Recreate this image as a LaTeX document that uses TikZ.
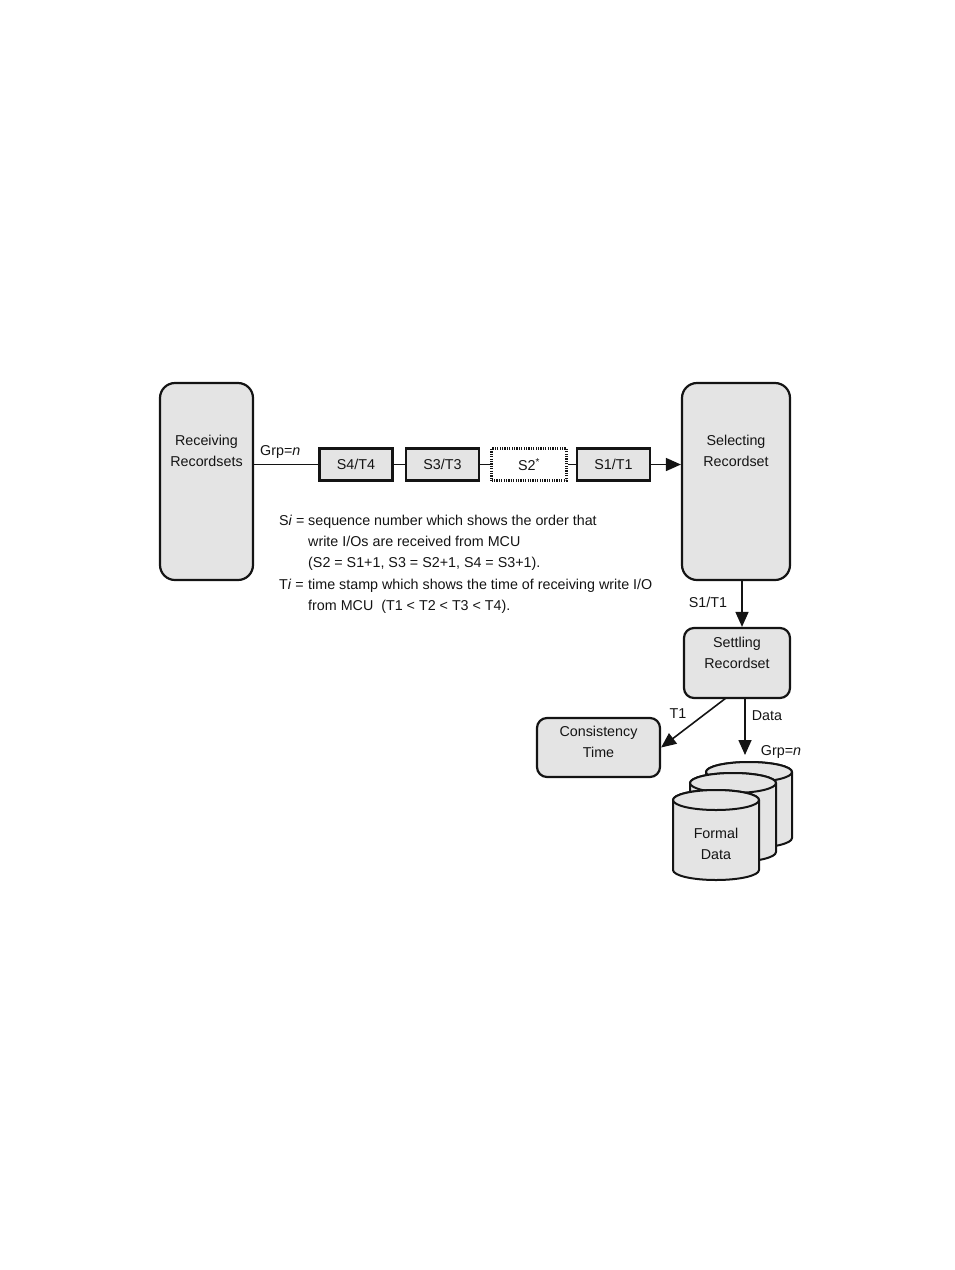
\documentclass[tikz,border=0pt]{standalone}
\usepackage{fontspec}
\setmainfont{Liberation Sans}
\usetikzlibrary{arrows.meta}
\definecolor{boxgray}{RGB}{228,228,228}
\definecolor{ink}{RGB}{20,20,20}
\begin{document}
\begin{tikzpicture}[x=1pt,y=-1pt,
  every node/.style={font=\fontsize{14.3}{17}\selectfont, text=ink},
  bigbox/.style={draw=ink, line width=2.2pt, fill=boxgray, rounded corners=15pt, inner sep=0pt},
  midbox/.style={draw=ink, line width=2.2pt, fill=boxgray, rounded corners=10pt, inner sep=0pt},
  seqbox/.style={draw=ink, line width=2.6pt, fill=boxgray, minimum width=73pt, minimum height=32pt, inner sep=0pt},
  gapbox/.style={draw=ink, line width=2.4pt, dash pattern=on 1.2pt off 1.2pt, fill=white, minimum width=75pt, minimum height=32pt, inner sep=0pt},
  lbl/.style={inner sep=0pt, align=center},
  legend/.style={inner sep=0pt, anchor=base west},
  conn/.style={draw=ink, line width=1.6pt},
  arr/.style={conn, -{Triangle[length=15pt,width=13pt]}},
  cyl/.style={draw=ink, line width=2pt, fill=boxgray}
]
\useasboundingbox (0,0) rectangle (954,1270);

% big boxes
\node[bigbox, minimum width=93pt, minimum height=197pt] (recv) at (206.5,481.5) {};
\node[lbl] (recvt) at (206.5,451) {Receiving\\[4pt]Recordsets};
\node[bigbox, minimum width=108pt, minimum height=197pt] (sel) at (736,481.5) {};
\node[lbl] (selt) at (736,451) {Selecting\\[4pt]Recordset};

% sequence boxes
\node[seqbox] (s4) at (356,464.5) {S4/T4};
\node[seqbox] (s3) at (442.5,464.5) {S3/T3};
\node[gapbox] (s2) at (529,464.5) {S2\textsuperscript{*}};
\node[seqbox] (s1) at (613.5,464.5) {S1/T1};

\draw[conn] (recv.east |- s4.west) -- (s4.west);
\draw[conn] (s4.east) -- (s3.west);
\draw[conn] (s3.east) -- (s2.west);
\draw[conn] (s2.east) -- (s1.west);
\draw[arr] (s1.east) -- (s1.east -| sel.west);
\node[lbl, anchor=west] (grp1) at (260,452) {Grp=\textit{n}};

% legend
\node[legend] (l1a) at (279,525) {S\textit{i} =};
\node[legend] (l1b) at (308,525) {sequence number which shows the order that};
\node[legend] (l2) at (308,546) {write I/Os are received from MCU};
\node[legend] (l3) at (308,567) {(S2 = S1+1, S3 = S2+1, S4 = S3+1).};
\node[legend] (l4a) at (279,589) {T\textit{i} =};
\node[legend] (l4b) at (308,589) {time stamp which shows the time of receiving write I/O};
\node[legend] (l5) at (308,610) {from MCU\ \ (T1 < T2 < T3 < T4).};

% settling
\node[midbox, minimum width=106pt, minimum height=70pt] (set) at (737,663) {};
\node[lbl] (sett) at (737,653) {Settling\\[4pt]Recordset};
\coordinate (selout) at (742,580.5);
\draw[arr] (selout) -- (selout |- set.north);
\node[lbl] (s1t1) at (708,602) {S1/T1};

% consistency time
\node[midbox, minimum width=123pt, minimum height=59pt] (cons) at (598.5,747.5) {};
\node[lbl] (const) at (598.5,742) {Consistency\\[4pt]Time};
\coordinate (t1start) at (726,698);
\draw[arr] (t1start) -- (cons.east);
\node[lbl] (t1l) at (678,714) {T1};

% data arrow
\coordinate (dstart) at (745,698);
\coordinate (dend) at (745,755);
\draw[arr] (dstart) -- (dend);
\node[lbl] (datal) at (767,716) {Data};
\node[lbl] (grp2) at (781,752) {Grp=\textit{n}};

% cylinders (back to front)
\foreach \cx/\ct/\cb in {749/772/838, 733/783/852, 716/800/870} {
  \draw[cyl] (\cx-43,\ct) -- (\cx-43,\cb) arc[start angle=180,end angle=360,x radius=43pt,y radius=10pt]
     -- (\cx+43,\ct) arc[start angle=0,end angle=180,x radius=43pt,y radius=10pt] -- cycle;
  \draw[cyl] (\cx,\ct) ellipse[x radius=43pt, y radius=10pt];
}
\node[lbl] (formal) at (716,844) {Formal\\[4pt]Data};
\end{tikzpicture}
\end{document}
